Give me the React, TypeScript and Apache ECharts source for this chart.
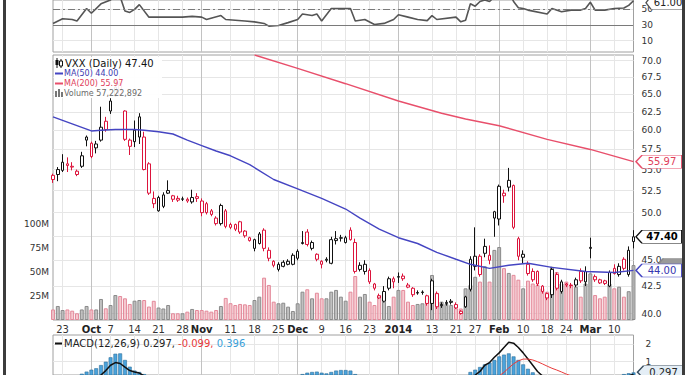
import React, { useEffect, useRef } from "react";
import * as echarts from "echarts";

// ---------- DATA ----------
const sepDays = [19, 20, 23, 24, 25, 26, 27, 30];
const octDays = [1, 2, 3, 4, 7, 8, 9, 10, 11, 14, 15, 16, 17, 18, 21, 22, 23, 24, 25, 28, 29, 30, 31];
const novDays = [1, 4, 5, 6, 7, 8, 11, 12, 13, 14, 15, 18, 19, 20, 21, 22, 25, 26, 27, 29];
const decDays = [2, 3, 4, 5, 6, 9, 10, 11, 12, 13, 16, 17, 18, 19, 20, 23, 24, 26, 27, 30, 31];
const janDays = [2, 3, 6, 7, 8, 9, 10, 13, 14, 15, 16, 17, 21, 22, 23, 24, 27, 28, 29, 30, 31];
const febDays = [3, 4, 5, 6, 7, 10, 11, 12, 13, 14, 18, 19, 20, 21, 24, 25, 26, 27, 28];
const marDays = [3, 4, 5, 6, 7, 10, 11, 12, 13, 14];

const monthDays: [string, number[]][] = [
  ["Sep", sepDays], ["Oct", octDays], ["Nov", novDays], ["Dec", decDays],
  ["Jan", janDays], ["Feb", febDays], ["Mar", marDays],
];
const categories: string[] = monthDays.flatMap(([m, days]) => days.map((d) => `${m} ${d}`));

// x tick labels (category -> text)
const tickLabels: Record<string, string> = {
  "Sep 23": "23", "Oct 1": "Oct", "Oct 7": "7", "Oct 14": "14", "Oct 21": "21", "Oct 28": "28",
  "Nov 1": "Nov", "Nov 11": "11", "Nov 18": "18", "Nov 25": "25", "Dec 2": "Dec", "Dec 9": "9",
  "Dec 16": "16", "Dec 23": "23", "Jan 2": "2014", "Jan 13": "13", "Jan 21": "21", "Jan 27": "27",
  "Feb 3": "Feb", "Feb 10": "10", "Feb 18": "18", "Feb 24": "24", "Mar 3": "Mar", "Mar 10": "10",
};
const boldLabels = ["Oct", "Nov", "Dec", "2014", "Feb", "Mar"];

// candles: [open, close, low, high]
const ohlc: number[][] = [
  [54.3, 53.8, 53.4, 54.5], [54.4, 55.0, 53.6, 55.3], [54.9, 55.9, 54.7, 56.9], [55.7, 55.5, 54.7, 56.5],
  [55.4, 55.3, 54.9, 55.9], [54.8, 54.4, 54.2, 55.0], [55.4, 56.7, 55.2, 57.2], [59.1, 58.7, 57.9, 59.3],
  [58.3, 56.6, 56.4, 58.5], [57.7, 58.2, 57.0, 58.6], [58.7, 60.4, 58.5, 63.2], [61.2, 60.1, 59.8, 61.8],
  [62.6, 64.0, 62.2, 64.4], [64.7, 66.0, 64.6, 67.0], [66.5, 65.0, 64.7, 67.8], [62.6, 58.8, 58.6, 62.7],
  [58.7, 57.9, 56.8, 58.9], [60.0, 58.5, 57.8, 61.3], [59.1, 61.8, 58.2, 62.3], [59.1, 55.0, 54.9, 59.8],
  [55.7, 52.2, 52.0, 55.9], [51.0, 51.6, 50.5, 52.4], [50.2, 51.7, 50.1, 51.9], [50.7, 52.0, 50.5, 52.3],
  [52.5, 52.2, 52.1, 53.7], [51.9, 51.5, 51.2, 52.0], [51.6, 51.4, 51.2, 51.9], [51.55, 51.5, 51.3, 51.8],
  [51.5, 51.3, 51.1, 51.7], [51.2, 51.7, 51.0, 52.6], [51.8, 51.6, 51.2, 52.2], [50.0, 51.3, 49.6, 51.6],
  [51.0, 50.0, 49.8, 51.2], [50.2, 49.8, 49.6, 50.4], [49.4, 48.8, 48.6, 49.6], [48.8, 50.8, 48.6, 51.0],
  [50.2, 48.5, 48.3, 50.4], [48.7, 48.4, 48.2, 48.9], [48.7, 48.2, 48.0, 48.8], [49.0, 47.9, 47.7, 49.1],
  [48.0, 47.5, 47.3, 48.1], [47.3, 47.0, 46.9, 47.4], [46.2, 47.1, 45.9, 47.2], [46.7, 47.7, 46.6, 47.9],
  [48.1, 46.2, 45.9, 48.3], [46.0, 45.2, 44.9, 46.3], [44.9, 44.5, 44.3, 45.0], [44.1, 44.6, 43.9, 44.8],
  [44.4, 44.8, 44.3, 45.0], [44.6, 44.9, 44.5, 45.1], [44.6, 45.5, 44.5, 45.7], [45.2, 45.9, 45.0, 46.1],
  [46.8, 46.7, 46.6, 48.0], [47.9, 46.6, 46.4, 48.2], [46.2, 46.8, 46.0, 47.0], [45.6, 45.1, 44.9, 45.7],
  [44.9, 44.6, 44.2, 45.0], [45.1, 45.0, 44.8, 45.3], [44.7, 47.1, 44.6, 47.4], [47.0, 47.2, 46.6, 48.0],
  [47.3, 47.25, 46.9, 47.6], [46.8, 47.3, 46.7, 47.5], [48.1, 47.1, 47.0, 48.4], [46.8, 43.9, 43.7, 47.2],
  [44.1, 44.5, 43.9, 44.8], [43.9, 44.6, 43.6, 45.0], [44.0, 42.9, 42.7, 44.2], [42.7, 42.3, 42.1, 42.8],
  [41.4, 41.6, 41.3, 41.8], [41.1, 42.0, 41.0, 42.5], [42.3, 43.2, 42.1, 43.4], [43.2, 42.9, 42.3, 43.4],
  [43.4, 43.35, 42.8, 43.8], [43.45, 43.2, 43.0, 43.7], [42.4, 42.6, 42.3, 42.8], [42.3, 41.7, 41.5, 42.4],
  [41.9, 41.85, 41.7, 42.1], [41.95, 41.9, 41.7, 42.1], [41.6, 40.9, 40.7, 41.7], [40.9, 43.0, 40.3, 43.2],
  [41.8, 40.6, 40.4, 42.0], [40.8, 40.7, 40.5, 41.0], [41.0, 40.9, 40.7, 41.2], [41.1, 41.0, 40.8, 41.3],
  [40.5, 40.8, 40.4, 41.0], [40.2, 40.0, 39.9, 40.3], [40.6, 41.5, 40.5, 41.6], [42.2, 45.1, 42.0, 45.4],
  [44.4, 45.4, 44.0, 48.4], [45.4, 43.6, 43.4, 45.6], [45.7, 46.4, 45.3, 47.2], [45.0, 45.5, 44.6, 46.5],
  [50.1, 49.4, 47.4, 50.2], [49.3, 53.0, 48.6, 53.2], [52.2, 51.9, 51.1, 52.6], [52.9, 53.7, 52.4, 55.2],
  [53.1, 48.4, 48.2, 53.2], [47.2, 45.4, 45.0, 47.4], [45.3, 45.6, 44.7, 46.0], [44.6, 43.7, 43.5, 44.9],
  [43.9, 43.1, 42.9, 44.2], [43.9, 42.7, 42.5, 44.0], [42.5, 42.0, 41.8, 42.6], [41.8, 41.4, 41.2, 41.9],
  [41.7, 44.1, 41.4, 44.3], [43.6, 42.3, 42.1, 43.8], [42.0, 42.9, 41.8, 43.1], [42.7, 42.6, 42.4, 42.8],
  [42.6, 42.55, 42.3, 42.8], [42.6, 43.1, 42.4, 43.3], [43.9, 43.0, 42.8, 44.2], [42.9, 43.9, 42.5, 44.4],
  [46.3, 46.2, 45.2, 47.3], [43.4, 43.1, 42.9, 43.6], [43.1, 42.8, 42.7, 43.2], [43.0, 42.75, 42.6, 43.1],
  [42.5, 43.8, 42.4, 44.0], [44.2, 43.7, 43.6, 44.6], [43.6, 44.4, 43.4, 44.7], [45.1, 44.2, 44.0, 45.3],
  [43.6, 46.0, 43.4, 46.4], [46.9, 47.4, 46.2, 48.1],
];
const priorClose = 54.6;

// volume in millions
const volumeM = [
  11, 14.6, 10.4, 11, 9.7, 7, 11, 14.6, 11, 11,
  21.9, 12.2, 15.6, 26, 25, 22.6, 16.7, 20.1, 20.8, 20.8,
  14, 20, 13, 12, 15.6, 7, 7, 7, 8.7, 11.5,
  10.4, 10.4, 9.7, 8.7, 10.4, 14.6, 23, 17.5, 15.6, 16.7,
  16.3, 15.6, 20.8, 24.3, 44.1, 36.5, 19.1, 17.4, 18.0, 13.9,
  9.4, 17.4, 29.5, 32.0, 22.6, 28.4, 22.6, 22.6, 29.5, 31.3,
  24.3, 20.1, 29.5, 45.8, 24.3, 27.1, 19.1, 15.6, 26.0, 19.1,
  14.6, 24.3, 31.3, 31.3, 19.1, 15.6, 16.7, 17.4, 24.3, 46.9,
  28.4, 19.1, 16.7, 15.6, 12.2, 12, 33, 36.5, 45, 40,
  56, 40, 73, 76, 54, 49, 47, 42, 33, 41,
  38, 36.5, 33, 29.5, 55.5, 50, 38, 40, 36.5, 34.7,
  24.3, 38, 48.6, 26, 22.6, 24.3, 38, 33, 34.7, 24.3,
  30, 57.2,
];

// moving averages: [category index, value]
const ma50Points: number[][] = [
  [0, 61.8], [5, 60.6], [8, 59.9], [10, 60.0], [13, 60.1], [17, 60.1], [19, 60.0], [22, 59.8],
  [25, 59.5], [28, 58.7], [31, 58.0], [34, 57.3], [37, 56.7], [41, 55.6], [46, 53.8], [51, 52.7],
  [56, 51.6], [61, 50.4], [64, 49.4], [68, 48.2], [72, 47.3], [76, 46.7], [80, 45.8], [84, 45.1],
  [87, 44.6], [91, 44.2], [95, 44.5], [99, 44.7], [104, 44.3], [111, 43.9], [117, 43.8], [121, 44.0],
];
const ma200Points: number[][] = [
  [42, 70.86], [51, 68.8], [61, 66.5], [72, 64.0], [81, 62.3], [86, 61.5],
  [93, 60.6], [103, 58.8], [112, 57.5], [121, 55.97],
];

// RSI(14): [category index, value]
const rsiPoints: number[][] = [
  [0, 32], [2, 38], [4, 37], [5, 35], [7, 51], [8, 45], [10, 57], [12, 62], [13, 68], [14, 66],
  [15, 48], [16, 46], [17, 50], [18, 56], [20, 40], [22, 40], [25, 40], [27, 40], [29, 41], [31, 40],
  [32, 37], [35, 42], [36, 37], [40, 35], [42, 34], [44, 32], [45, 28.5], [47, 29.3], [49, 33], [51, 37],
  [52, 44], [54, 42], [55, 44], [56, 35], [58, 51], [62, 51], [63, 35], [65, 37], [67, 30.7], [69, 32],
  [71, 37], [72, 43], [74, 40], [76, 37], [78, 35.6], [79, 42], [80, 37], [84, 40], [85, 34], [86, 36],
  [87, 57], [88, 54], [89, 60], [90, 62], [91, 60], [92, 66], [93, 72], [94, 70], [95, 73], [96, 60],
  [97, 52], [98, 51], [99, 49], [103, 44], [104, 51], [106, 47], [108, 49], [110, 49], [111, 51],
  [112, 59], [113, 49], [115, 49], [117, 51], [119, 51.6], [120, 55], [121, 61],
];

// MACD(12,26,9)
const macdLine = [
  -1.0, -0.95, -0.85, -0.75, -0.7, -0.65, -0.5, -0.3, -0.15, 0.0,
  0.25, 0.5, 0.8, 0.95, 0.9, 0.7, 0.5, 0.42, 0.36, 0.2,
  -0.1, -0.35, -0.5, -0.6, -0.65, -0.7, -0.75, -0.8, -0.85, -0.85,
  -0.85, -0.9, -0.95, -1.0, -1.05, -1.0, -1.05, -1.1, -1.15, -1.2,
  -1.25, -1.3, -1.3, -1.25, -1.3, -1.35, -1.4, -1.4, -1.35, -1.3,
  -1.25, -1.2, -1.1, -1.0, -0.95, -0.95, -0.95, -0.95, -0.85, -0.75,
  -0.7, -0.65, -0.6, -0.7, -0.75, -0.8, -0.85, -0.95, -1.05, -1.1,
  -1.1, -1.1, -1.05, -1.05, -1.05, -1.05, -1.05, -1.05, -1.1, -1.0,
  -1.0, -1.0, -1.0, -0.95, -0.95, -0.95, -0.9, -0.55, 0.25, 0.45,
  0.8, 0.95, 1.25, 1.5, 1.8, 2.1, 2.05, 1.8, 1.5, 1.15,
  0.8, 0.45, 0.2, -0.05, -0.1, -0.25, -0.3, -0.35, -0.4, -0.4,
  -0.4, -0.35, -0.1, -0.15, -0.2, -0.2, -0.1, -0.05, 0.0, 0.05,
  0.2, 0.297,
];
const macdSignal = [
  -0.6, -0.65, -0.7, -0.75, -0.8, -0.9, -0.82, -0.74, -0.7, -0.63,
  -0.56, -0.5, -0.45, -0.5, -0.57, -0.4, -0.22, -0.08, -0.06, -0.1,
  -0.15, -0.15, -0.1, -0.1, -0.1, -0.1, -0.15, -0.2, -0.3, -0.35,
  -0.4, -0.5, -0.55, -0.65, -0.7, -0.75, -0.75, -0.8, -0.85, -0.9,
  -0.95, -1.0, -1.1, -1.15, -1.15, -1.15, -1.2, -1.3, -1.35, -1.35,
  -1.4, -1.42, -1.4, -1.38, -1.37, -1.39, -1.33, -1.29, -1.27, -1.25,
  -1.23, -1.18, -1.1, -1.0, -0.9, -0.85, -0.8, -0.8, -0.8, -0.8,
  -0.8, -0.85, -0.85, -0.9, -0.9, -0.9, -0.93, -0.95, -0.98, -0.98,
  -0.95, -0.95, -0.97, -0.95, -0.95, -0.93, -1.1, -0.97, -0.3, -0.25,
  -0.05, 0.0, 0.15, 0.2, 0.4, 0.65, 0.88, 1.05, 1.15, 1.15,
  1.1, 1.0, 0.88, 0.75, 0.63, 0.53, 0.42, 0.3, 0.2, 0.1,
  0.0, -0.05, -0.08, -0.1, -0.1, -0.1, -0.1, -0.08, -0.1, -0.1,
  -0.1, -0.099,
];
const macdHist = [
  -0.4, -0.3, -0.15, 0.0, 0.1, 0.25, 0.32, 0.44, 0.55, 0.63,
  0.81, 1.0, 1.25, 1.45, 1.47, 1.1, 0.72, 0.5, 0.42, 0.3,
  0.05, -0.2, -0.4, -0.5, -0.55, -0.6, -0.6, -0.6, -0.55, -0.5,
  -0.45, -0.4, -0.4, -0.35, -0.35, -0.25, -0.3, -0.3, -0.3, -0.3,
  -0.3, -0.3, -0.2, -0.1, -0.15, -0.2, -0.2, -0.1, 0.0, 0.05,
  0.15, 0.22, 0.3, 0.38, 0.42, 0.44, 0.38, 0.34, 0.42, 0.5,
  0.53, 0.53, 0.5, 0.3, 0.15, 0.05, -0.05, -0.15, -0.25, -0.3,
  -0.3, -0.25, -0.2, -0.15, -0.15, -0.15, -0.12, -0.1, -0.12, -0.02,
  -0.05, -0.05, -0.03, 0.0, 0.0, -0.02, 0.2, 0.42, 0.55, 0.7,
  0.85, 0.95, 1.1, 1.3, 1.4, 1.47, 1.3, 1.1, 0.85, 0.6,
  0.4, 0.25, 0.05, -0.15, -0.15, -0.3, -0.35, -0.4, -0.4, -0.4,
  -0.4, -0.35, -0.15, -0.2, -0.2, -0.15, -0.05, 0.0, 0.1, 0.3,
  0.35, 0.396,
];

const priceGridTicks = [40, 42.5, 45, 47.5, 50, 52.5, 55, 57.5, 60, 62.5, 65, 67.5, 70];
const priceLabelTicks = [40, 42.5, 45, 50, 52.5, 55, 57.5, 60, 62.5, 65, 67.5, 70];
const rsiTicks = [10, 30, 50];
const macdTicks = [1, 2];
const volumeTickLimit = 100e6;

// ---------- STYLE ----------
const FONT = "'DejaVu Sans', Verdana, sans-serif";
const RED = "#dc143c";
const BLACK = "#111111";
const L = 53;
const R = 51.5;
const lastIdx = categories.length - 1;

const boxPath = "path://M0,6L6,0L46,0L46,12L6,12Z";
function boxMark(coord: any[], text: string, border: string, textColor: string, opts: any = {}) {
  return {
    silent: true,
    symbol: boxPath,
    symbolSize: [opts.width || 46, 13],
    symbolKeepAspect: false,
    symbolOffset: [opts.offsetX ?? 25.5, opts.offsetY ?? 0],
    itemStyle: { color: opts.fill || "#fff", borderColor: border, borderWidth: 1 },
    label: {
      show: !!text,
      position: "inside",
      formatter: text,
      color: textColor,
      fontSize: 10,
      fontFamily: FONT,
      fontWeight: opts.bold ? "bold" : "normal",
      offset: [3, 0],
    },
    data: [{ coord }],
  };
}

export default function App() {
  const ref = useRef<HTMLDivElement>(null);
  useEffect(() => {
    document.body.style.margin = "0";
    const chart = echarts.init(ref.current!, null, { renderer: "svg" });

    const closes = ohlc.map((d) => d[1]);
    const isUp = (i: number) => closes[i] >= (i === 0 ? priorClose : closes[i - 1]);

    const candleData = ohlc.map((d, i) => {
      const col = isUp(i) ? BLACK : RED;
      return {
        value: [Math.log(d[0]), Math.log(d[1]), Math.log(d[2]), Math.log(d[3])],
        itemStyle: { color: "#fff", color0: col, borderColor: col, borderColor0: col, borderWidth: 1 },
      };
    });
    const volData = volumeM.map((v, i) => ({
      value: v * 1e6,
      itemStyle: isUp(i)
        ? { color: "rgba(178,178,178,0.8)", borderColor: "#8a8a8a", borderWidth: 1 }
        : { color: "rgba(244,190,198,0.8)", borderColor: "#e3899a", borderWidth: 1 },
    }));

    const tickKeys = Object.keys(tickLabels);
    const splitColors = tickKeys.map((k) => (boldLabels.includes(tickLabels[k]) ? "#c2c2c2" : "#e6e6e6"));
    const tickFilter = (idx: number) => !!tickLabels[categories[idx]];

    const xAxes = [0, 1, 2].map((g) => ({
      type: "category",
      gridIndex: g,
      data: categories,
      boundaryGap: false,
      axisLine: { show: false },
      axisTick: { show: false },
      axisLabel:
        g === 1
          ? {
              show: true,
              interval: tickFilter,
              margin: 4,
              formatter: (val: string) => {
                const t = tickLabels[val] || "";
                return boldLabels.includes(t) ? `{b|${t}}` : `{n|${t}}`;
              },
              rich: {
                b: { fontWeight: "bold", fontSize: 10, fontFamily: FONT, color: "#222" },
                n: { fontSize: 10, fontFamily: FONT, color: "#333" },
              },
            }
          : { show: false },
      splitLine: { show: true, interval: tickFilter, lineStyle: { color: splitColors, width: 1 } },
    }));

    const gridBase = { left: L, right: R, show: true, borderColor: "#a0a0a0", borderWidth: 1, backgroundColor: "#fff", outerBoundsMode: "none" };

    const option: any = {
      animation: false,
      backgroundColor: "#fff",
      grid: [
        { ...gridBase, top: 0, height: 52 },
        { ...gridBase, top: 55, height: 265 },
        { ...gridBase, top: 335, height: 40 },
      ],
      xAxis: xAxes,
      yAxis: [
        {
          type: "value", gridIndex: 0, position: "right", min: -4.5, max: 61.9,
          axisLine: { show: false },
          axisTick: { show: false, customValues: rsiTicks },
          axisLabel: { customValues: rsiTicks, color: "#333", fontSize: 9, fontFamily: FONT, margin: 8 },
          splitLine: { show: true, lineStyle: { color: "#e6e6e6" } },
        },
        {
          type: "value", gridIndex: 1, position: "right", min: Math.log(39.43), max: Math.log(70.86),
          axisLine: { show: false },
          axisTick: { show: false, customValues: priceGridTicks.map((p) => Math.log(p)) },
          axisLabel: {
            customValues: priceLabelTicks.map((p) => Math.log(p)), color: "#333", fontSize: 9, fontFamily: FONT, margin: 8,
            formatter: (v: number) => Math.exp(v).toFixed(1),
          },
          splitLine: { show: true, lineStyle: { color: "#e6e6e6" } },
        },
        {
          type: "value", gridIndex: 1, position: "left", min: 0, max: 276e6, interval: 25e6,
          axisLine: { show: false }, axisTick: { show: false },
          axisLabel: {
            color: "#333", fontSize: 9, fontFamily: FONT, margin: 4,
            formatter: (v: number) => (v > 0 && v <= volumeTickLimit ? `${Math.round(v / 1e6)}M` : ""),
          },
          splitLine: { show: false },
        },
        {
          type: "value", gridIndex: 2, position: "right", min: 0.25, max: 2.51,
          axisLine: { show: false },
          axisTick: { show: false, customValues: macdTicks },
          axisLabel: { customValues: macdTicks, color: "#333", fontSize: 9, fontFamily: FONT, margin: 12 },
          splitLine: { show: true, lineStyle: { color: "#e6e6e6" } },
        },
      ],
      series: [
        {
          type: "line", xAxisIndex: 0, yAxisIndex: 0, data: rsiPoints, symbol: "none", z: 3,
          lineStyle: { color: "#555", width: 1.6 },
          markLine: {
            silent: true, symbol: ["none", "none"], label: { show: false },
            data: [
              { yAxis: 30, lineStyle: { color: "#7a7a7a", width: 1, type: "solid" } },
              { yAxis: 50, lineStyle: { color: "#7a7a7a", width: 1, type: [7, 3, 2, 3] } },
            ],
          },
          markPoint: boxMark([lastIdx, 61], "61.00", "#555", "#222", { width: 38, offsetX: 31.5, offsetY: 2 }),
        },
        {
          type: "bar", xAxisIndex: 1, yAxisIndex: 2, data: volData, barWidth: "82%", z: 1,
          markPoint: boxMark([lastIdx, 57.2e6], "", "#888", "#fff", { fill: "#9a9a9a", width: 42, offsetX: 45 }),
        },
        {
          type: "candlestick", xAxisIndex: 1, yAxisIndex: 1, data: candleData, barWidth: "64%", z: 3, clip: false,
          markPoint: boxMark([lastIdx, Math.log(47.4)], "47.40", "#111", "#000", { bold: true }),
        },
        {
          type: "line", xAxisIndex: 1, yAxisIndex: 1, symbol: "none", z: 4,
          data: ma50Points.map(([i, v]) => [i, Math.log(v)]),
          lineStyle: { color: "#4545c2", width: 1.4 },
          markPoint: boxMark([lastIdx, Math.log(44.0)], "44.00", "#4545c2", "#3535b0"),
        },
        {
          type: "line", xAxisIndex: 1, yAxisIndex: 1, symbol: "none", z: 4,
          data: ma200Points.map(([i, v]) => [i, Math.log(v)]),
          lineStyle: { color: "#e84f6b", width: 1.4 },
          markPoint: boxMark([lastIdx, Math.log(55.97)], "55.97", "#e84f6b", "#e0405a"),
        },
        {
          type: "bar", xAxisIndex: 2, yAxisIndex: 3, data: macdHist, barWidth: "80%", z: 2,
          itemStyle: { color: "#4aa3dc", borderColor: "#2f6f99", borderWidth: 0.6 },
          markPoint: boxMark([lastIdx, 0.297], "0.297", "#3b4f60", "#222", { fill: "#e4eef6", width: 46, offsetX: 27, offsetY: -2 }),
        },
        {
          type: "line", xAxisIndex: 2, yAxisIndex: 3, data: macdLine, symbol: "none", z: 3,
          lineStyle: { color: "#111", width: 1.5 },
        },
        {
          type: "line", xAxisIndex: 2, yAxisIndex: 3, data: macdSignal, symbol: "none", z: 3,
          lineStyle: { color: "#e83a3a", width: 1 },
        },
      ],
      graphic: [
        // outer frame
        { type: "rect", shape: { x: 3, y: 0, width: 3, height: 375 }, style: { fill: "#3c3c3c" }, z: 100 },
        { type: "rect", shape: { x: 682, y: 0, width: 3, height: 375 }, style: { fill: "#3c3c3c" }, z: 100 },
        // price legend
        { type: "rect", shape: { x: 54, y: 57, width: 108, height: 41 }, style: { fill: "rgba(255,255,255,0.93)" }, z: 100 },
        { type: "line", shape: { x1: 57, y1: 58, x2: 57, y2: 68 }, style: { stroke: "#111", lineWidth: 1 }, z: 101 },
        { type: "rect", shape: { x: 55.5, y: 60, width: 3, height: 5 }, style: { fill: "#111" }, z: 101 },
        { type: "line", shape: { x1: 61, y1: 59, x2: 61, y2: 68 }, style: { stroke: "#111", lineWidth: 1 }, z: 101 },
        { type: "rect", shape: { x: 59.5, y: 61, width: 3, height: 5 }, style: { fill: "#fff", stroke: "#111", lineWidth: 1 }, z: 102 },
        { type: "text", x: 65, y: 63.5, style: { text: "VXX (Daily) 47.40", fill: "#111", font: `10px ${FONT}`, verticalAlign: "middle" }, z: 101 },
        { type: "line", shape: { x1: 55, y1: 73.5, x2: 63, y2: 73.5 }, style: { stroke: "#4545c2", lineWidth: 2 }, z: 101 },
        { type: "text", x: 64, y: 73.5, style: { text: "MA(50) 44.00", fill: "#3a3ab0", font: `8px ${FONT}`, verticalAlign: "middle" }, z: 101 },
        { type: "line", shape: { x1: 55, y1: 83.5, x2: 63, y2: 83.5 }, style: { stroke: "#e84f6b", lineWidth: 2 }, z: 101 },
        { type: "text", x: 64, y: 83.5, style: { text: "MA(200) 55.97", fill: "#e0405a", font: `8px ${FONT}`, verticalAlign: "middle" }, z: 101 },
        { type: "rect", shape: { x: 55, y: 91, width: 2, height: 6 }, style: { fill: "#777" }, z: 101 },
        { type: "rect", shape: { x: 58, y: 89, width: 2, height: 8 }, style: { fill: "#777" }, z: 101 },
        { type: "rect", shape: { x: 61, y: 92, width: 2, height: 5 }, style: { fill: "#777" }, z: 101 },
        { type: "text", x: 64, y: 93.5, style: { text: "Volume 57,222,892", fill: "#6a6a6a", font: `8px ${FONT}`, verticalAlign: "middle" }, z: 101 },
        // MACD legend
        { type: "line", shape: { x1: 55, y1: 343.5, x2: 62, y2: 343.5 }, style: { stroke: "#111", lineWidth: 2 }, z: 101 },
        {
          type: "text", x: 64, y: 343.5, z: 101,
          style: {
            text: "{k|MACD(12,26,9) 0.297, }{r|-0.099, }{b|0.396}",
            font: `10px ${FONT}`, verticalAlign: "middle",
            rich: {
              k: { fill: "#222", font: `10px ${FONT}` },
              r: { fill: "#e83a3a", font: `10px ${FONT}` },
              b: { fill: "#3aa0d8", font: `10px ${FONT}` },
            },
          },
        },
      ],
    };
    chart.setOption(option);
    return () => chart.dispose();
  }, []);
  return <div ref={ref} style={{ position: "absolute", left: 0, top: 0, width: 685, height: 375 }} />;
}
